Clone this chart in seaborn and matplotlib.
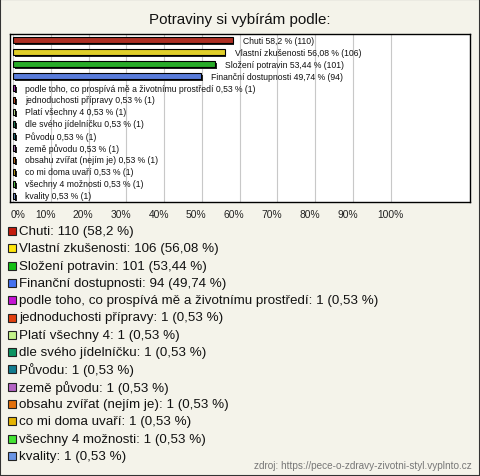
import matplotlib
matplotlib.use("Agg")
import matplotlib.pyplot as plt
import matplotlib.patheffects as pe
from matplotlib.patches import Rectangle
from matplotlib.transforms import ScaledTranslation
import seaborn as sns

# data
categories = [
    "Chuti",
    "Vlastní zkušenosti",
    "Složení potravin",
    "Finanční dostupnosti",
    "podle toho, co prospívá mě a životnímu prostředí",
    "jednoduchosti přípravy",
    "Platí všechny 4",
    "dle svého jídelníčku",
    "Původu",
    "země původu",
    "obsahu zvířat (nejím je)",
    "co mi doma uvaří",
    "všechny 4 možnosti",
    "kvality",
]
counts = [110, 106, 101, 94, 1, 1, 1, 1, 1, 1, 1, 1, 1, 1]
percents = [58.2, 56.08, 53.44, 49.74, 0.53, 0.53, 0.53, 0.53, 0.53,
            0.53, 0.53, 0.53, 0.53, 0.53]
colors = ["#c41c0c", "#ffe60a", "#14c014", "#4472f0", "#c414d4", "#e2400e",
          "#c4f48a", "#0c9462", "#127c90", "#b464c4", "#e2700c", "#e4b404",
          "#44e434", "#6a94e4"]
tick_values = list(range(0, 101, 10))

bg = "#f4f3ea"
sns.set_style("white")
plt.rcParams["font.family"] = ["Liberation Sans", "DejaVu Sans"]

fig = plt.figure(figsize=(4.8, 4.77), dpi=100, facecolor=bg)
ax = fig.add_axes([10 / 480, 1 - 203 / 477, 460 / 480, 168 / 477])
ax.set_facecolor("white")

sns.barplot(
    x=percents,
    y=categories,
    hue=categories,
    palette=colors,
    orient="h",
    width=0.48,
    edgecolor="black",
    linewidth=0.8,
    legend=False,
    ax=ax,
)
for bar in ax.patches:
    bar.set_path_effects([
        pe.SimplePatchShadow(offset=(1.2, -1.2), shadow_rgbFace="#222222", alpha=1),
        pe.Normal(),
    ])

def fmt(p):
    return f"{p:g}".replace(".", ",")

for i, (p, c) in enumerate(zip(percents, counts)):
    ax.text(p + 2.6, i, f"{categories[i]} {fmt(p)} % ({c})",
            va="center", ha="left", fontsize=6.2, color="#111111")

ax.set_xlim(-0.8, 121)
ax.set_ylim(len(categories) - 0.5, -0.5)
ax.set_xticks(tick_values)
ax.set_xticklabels([f"{t}%" for t in tick_values], fontsize=7.4, color="#222222")
ax.set_yticks([])
ax.set_xlabel("")
ax.set_ylabel("")
ax.tick_params(axis="x", length=0, pad=5)
ax.grid(axis="x", color="#c8c8c8", linewidth=0.8)
ax.set_axisbelow(True)
for spine in ax.spines.values():
    spine.set_visible(True)
    spine.set_color("black")
    spine.set_linewidth(1.0)

# the reference puts its tick labels a little left of the gridlines
for k, lab in enumerate(ax.get_xticklabels()):
    dx = -5.5
    if k == 0:
        dx = 5
    elif k == len(tick_values) - 1:
        dx = 0
    lab.set_transform(lab.get_transform() + ScaledTranslation(dx / 100, 0, fig.dpi_scale_trans))

fig.text(0.5, 1 - 20 / 477, "Potraviny si vybírám podle:", ha="center", va="center",
         fontsize=10.9, color="#111111")

# legend below the chart
top = 232
step = 17.3
for i, (name, c, p, col) in enumerate(zip(categories, counts, percents, colors)):
    y = top + i * step
    fig.patches.append(Rectangle((8 / 480, 1 - (y + 4) / 477), 8 / 480, 8 / 477,
                                 transform=fig.transFigure, facecolor=col,
                                 edgecolor="#222222", linewidth=0.8))
    fig.text(19 / 480, 1 - y / 477, f"{name}: {c} ({fmt(p)} %)", ha="left",
             va="center", fontsize=9.6, color="#111111")

fig.text(472 / 480, 1 - 466 / 477,
         "zdroj: https://pece-o-zdravy-zivotni-styl.vyplnto.cz",
         ha="right", va="center", fontsize=7.2, color="#777777")

fig.patches.append(Rectangle((0, 0), 1, 1, transform=fig.transFigure, fill=False,
                             edgecolor="#333333", linewidth=1.5))

fig.savefig("out.png", dpi=100, facecolor=bg)
